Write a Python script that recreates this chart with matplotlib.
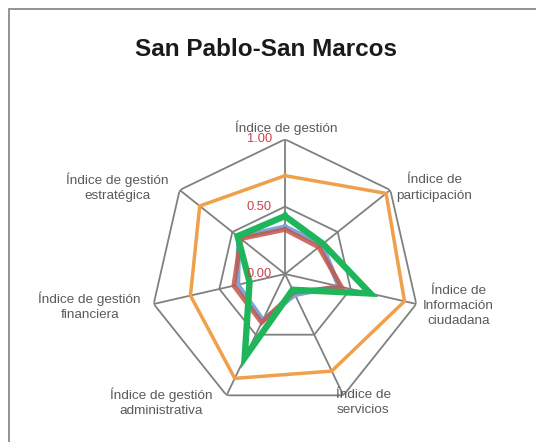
import numpy as np
import matplotlib
matplotlib.use("Agg")
import matplotlib.pyplot as plt
from matplotlib.patches import Rectangle

plt.rcParams['font.family'] = ['Liberation Sans', 'DejaVu Sans']

title = "San Pablo-San Marcos"
categories = ["Índice de gestión", "Índice de\nparticipación", "Índice de\nInformación\nciudadana",
              "Índice de\nservicios", "Índice de gestión\nadministrativa",
              "Índice de gestión\nfinanciera", "Índice de gestión\nestratégica"]
orange_vals = [0.73, 0.96, 0.91, 0.80, 0.86, 0.72, 0.81]
blue_vals = [0.35, 0.35, 0.41, 0.17, 0.38, 0.36, 0.44]
red_vals = [0.33, 0.32, 0.43, 0.15, 0.40, 0.39, 0.42]
green_vals = [0.43, 0.36, 0.65, 0.13, 0.69, 0.27, 0.45]
ticks = [0.0, 0.5, 1.0]
tick_labels = ["0.00", "0.50", "1.00"]

W, H = 536, 442
fig = plt.figure(figsize=(W / 100, H / 100), dpi=100)
fig.patch.set_facecolor('white')

cx, cy, R = 285.0, 274.0, 134.7
ax = fig.add_axes([(cx - R) / W, (H - cy - R) / H, 2 * R / W, 2 * R / H], projection='polar')
ax.set_theta_offset(np.pi / 2)
ax.set_theta_direction(-1)
ax.set_ylim(0, 1)
ax.set_xticks([])
ax.set_yticks([])
ax.grid(False)
ax.spines['polar'].set_visible(False)
ax.patch.set_alpha(0)

n = len(categories)
angles = np.arange(n) * 2 * np.pi / n
closed = np.concatenate([angles, angles[:1]])

grid_col = '#808080'
for t in ticks[1:]:
    ax.plot(closed, [t] * (n + 1), color=grid_col, lw=1.3, zorder=1)
for a in angles:
    ax.plot([a, a], [0, 1], color=grid_col, lw=1.3, zorder=1)

def close(v):
    return list(v) + [v[0]]

ax.plot(closed, close(orange_vals), color='#f0a04a', lw=2.5, zorder=3, solid_joinstyle='miter')
ax.plot(closed, close(blue_vals), color='#7fa6d9', lw=3.6, zorder=4, solid_joinstyle='miter')
ax.plot(closed, close(red_vals), color='#c4554a', lw=3.4, alpha=0.85, zorder=5, solid_joinstyle='miter')
ax.plot(closed, close(green_vals), color='#1fb55a', lw=4.6, zorder=6, solid_joinstyle='miter')

for t, lab in zip(ticks, tick_labels):
    ax.annotate(lab, xy=(0, t), xytext=(-13, 0), textcoords='offset pixels',
                ha='right', va='center', color='#c9424a', fontsize=9.3, zorder=7)

offsets = [(1, 12), (44, 2), (42, -2), (20, -7), (-65, -7), (-64, -2), (-62, 3)]
for a, lab, off in zip(angles, categories, offsets):
    ax.annotate(lab, xy=(a, 1), xytext=off, textcoords='offset pixels',
                ha='center', va='center', multialignment='center',
                color='#5a5a5a', fontsize=9.7, linespacing=1.38)

fig.text(266 / W, 1 - 49 / H, title, ha='center', va='center', fontsize=17.5,
         fontweight='bold', color='#1a1a1a')

fig.add_artist(Rectangle((9 / W, -0.1), 1.2, 1.1 - 9 / H, transform=fig.transFigure,
                         fill=False, edgecolor='#8a8a8a', lw=1.3))

fig.savefig("out.png", dpi=100, facecolor='white')
